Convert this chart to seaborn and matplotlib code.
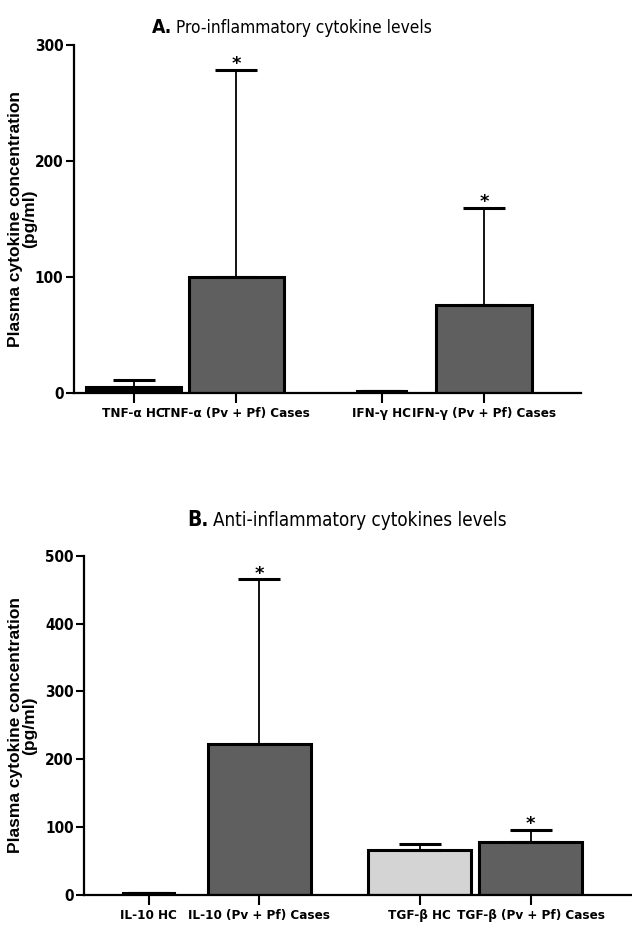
import numpy as np
import pandas as pd
import matplotlib
matplotlib.use("Agg")
import matplotlib.pyplot as plt
import seaborn as sns

# panel A - pro-inflammatory
labels_a = ["TNF-α HC", "TNF-α (Pv + Pf) Cases", "IFN-γ HC", "IFN-γ (Pv + Pf) Cases"]
pos_a = [0, 1, 2.42, 3.42]
mean_a = [5, 100, 2, 76]
upper_a = [11, 279, 2, 160]
colors_a = ["#000000", "#5f5f5f", "#000000", "#5f5f5f"]
widths_a = [0.93, 0.93, 0.47, 0.93]
star_a = [False, True, False, True]

# panel B - anti-inflammatory
labels_b = ["IL-10 HC", "IL-10 (Pv + Pf) Cases", "TGF-β HC", "TGF-β (Pv + Pf) Cases"]
pos_b = [0, 1, 2.45, 3.45]
mean_b = [3, 222, 66, 78]
upper_b = [3, 465, 75, 96]
colors_b = ["#000000", "#5f5f5f", "#d4d4d4", "#5f5f5f"]
widths_b = [0.46, 0.93, 0.93, 0.93]
star_b = [False, True, False, True]

sns.set_style("ticks")
plt.rcParams["font.family"] = ["DejaVu Sans"]
plt.rcParams["font.stretch"] = "condensed"
for k in ["text.color", "axes.labelcolor", "xtick.color", "ytick.color", "axes.edgecolor"]:
    plt.rcParams[k] = "black"

fig = plt.figure(figsize=(6.32, 9.27), dpi=100)
ax_a = fig.add_axes([0.117, 0.576, 0.802, 0.375])
ax_b = fig.add_axes([0.133, 0.0345, 0.867, 0.366])


def draw_panel(ax, labels, pos, mean, upper, colors, widths, stars, ymax, step):
    df = pd.DataFrame({"pos": pos, "value": mean, "group": labels})
    sns.barplot(data=df, x="pos", y="value", hue="group", hue_order=labels,
                palette=colors, native_scale=True, width=0.93,
                edgecolor="black", linewidth=2.2, legend=False, ax=ax)
    for p, w in zip(ax.patches, widths):
        c = p.get_x() + p.get_width() / 2
        p.set_width(w)
        p.set_x(c - w / 2)
    err = np.array(upper) - np.array(mean)
    ax.errorbar(pos, mean, yerr=[np.zeros(len(mean)), err], fmt="none",
                ecolor="black", elinewidth=1.3, capsize=15, capthick=2.2,
                zorder=1)
    for x, u, s in zip(pos, upper, stars):
        if s:
            ax.annotate("*", (x, u), xytext=(0, 4), textcoords="offset points",
                        ha="center", va="center", fontsize=13, fontweight="bold",
                        stretch="normal")
    ax.set_ylim(0, ymax)
    ax.set_yticks(np.arange(0, ymax + 1, step))
    ax.set_xlim(-0.584, 4.366)
    ax.set_xticks(pos)
    ax.set_xticklabels(labels, fontsize=9.6, fontweight="bold")
    for t in ax.get_yticklabels():
        t.set_fontsize(11)
        t.set_fontweight("bold")
    ax.set_xlabel("")
    ax.set_ylabel("Plasma cytokine concentration\n(pg/ml)",
                  family=["Liberation Sans", "DejaVu Sans"], stretch="normal",
                  fontsize=12.5, fontweight="bold", linespacing=0.95)
    sns.despine(ax=ax)
    for sp in ["left", "bottom"]:
        ax.spines[sp].set_linewidth(1.6)
    ax.tick_params(axis="x", width=1.5, length=7, direction="out", pad=3)
    ax.tick_params(axis="y", width=1.5, length=6, direction="out", pad=1.5)


draw_panel(ax_a, labels_a, pos_a, mean_a, upper_a, colors_a, widths_a, star_a, 300, 100)
draw_panel(ax_b, labels_b, pos_b, mean_b, upper_b, colors_b, widths_b, star_b, 500, 100)
ax_a.yaxis.set_label_coords(-0.073, 0.5)
ax_b.yaxis.set_label_coords(-0.085, 0.5)


def panel_title(x, y, letter, text, size):
    t1 = fig.text(x, y, letter, fontsize=size + 1.5, fontweight="bold",
                  ha="left", va="center")
    fig.canvas.draw()
    ann = plt.annotate(text, xy=(1, 0), xycoords=t1, xytext=(3, 0),
                       textcoords="offset points", fontsize=size, va="bottom")
    return t1, ann


panel_title(0.240, 0.970, "A.", "Pro-inflammatory cytokine levels", 12.4)
panel_title(0.297, 0.439, "B.", "Anti-inflammatory cytokines levels", 13.5)

fig.savefig("out.png", dpi=100)
